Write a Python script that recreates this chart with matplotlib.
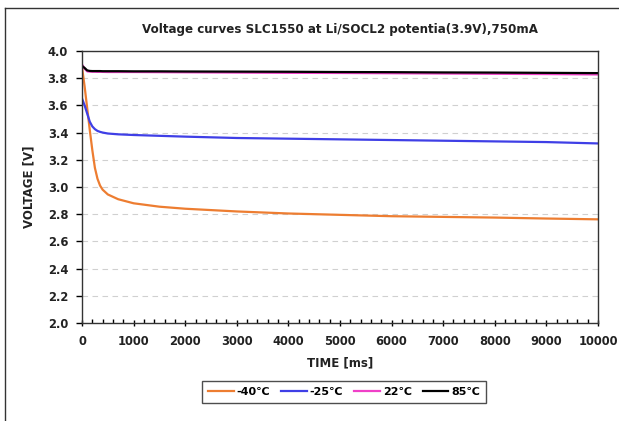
import matplotlib
matplotlib.use('Agg')
import matplotlib.pyplot as plt
from matplotlib.lines import Line2D
from matplotlib.ticker import MultipleLocator

# time points [ms]
t = [0, 50, 100, 150, 200, 250, 300, 350, 400, 500, 700, 1000, 1500, 2000, 3000,
     4000, 5000, 6000, 7000, 8000, 9000, 10000]

# voltage readings [V]
v_m40 = [3.88, 3.74, 3.58, 3.42, 3.27, 3.14, 3.06, 3.01, 2.98, 2.945, 2.91, 2.88,
         2.855, 2.84, 2.82, 2.805, 2.795, 2.785, 2.78, 2.775, 2.768, 2.762]
v_m25 = [3.65, 3.60, 3.54, 3.48, 3.445, 3.425, 3.412, 3.405, 3.40, 3.393, 3.387, 3.382,
         3.376, 3.37, 3.36, 3.355, 3.35, 3.345, 3.34, 3.335, 3.33, 3.32]
v_22 = [3.90, 3.87, 3.85, 3.848, 3.847, 3.847, 3.846, 3.846, 3.846, 3.845, 3.845, 3.845,
        3.844, 3.843, 3.841, 3.839, 3.838, 3.836, 3.834, 3.832, 3.83, 3.827]
v_85 = [3.89, 3.875, 3.857, 3.853, 3.852, 3.852, 3.852, 3.852, 3.851, 3.851, 3.851, 3.85,
        3.85, 3.849, 3.848, 3.847, 3.845, 3.844, 3.842, 3.841, 3.839, 3.837]

labels = ['-40℃', '-25℃', '22℃', '85℃']
colors = ['#ED7D31', '#3F3FE6', '#F040C8', '#000000']

fig = plt.figure(figsize=(6.19, 4.21), dpi=100, facecolor='white')
ax = fig.add_axes([0.1325, 0.2328, 0.8335, 0.6462])

for v, lab, c in zip([v_m40, v_m25, v_22, v_85], labels, colors):
    ax.plot(t, v, color=c, linewidth=1.6, label=lab)

ax.set_xlim(0, 10000)
ax.set_ylim(2.0, 4.0)
ax.xaxis.set_major_locator(MultipleLocator(1000))
ax.xaxis.set_minor_locator(MultipleLocator(200))
ax.yaxis.set_major_locator(MultipleLocator(0.2))
ax.yaxis.set_major_formatter(matplotlib.ticker.FormatStrFormatter('%.1f'))

ax.grid(axis='y', linestyle=(0, (5, 4)), color='#D0D0D0', linewidth=0.8)
ax.set_axisbelow(True)

ax.tick_params(axis='x', which='major', direction='inout', length=5, width=1, pad=6)
ax.tick_params(axis='x', which='minor', direction='in', length=3, width=1)
ax.tick_params(axis='y', which='major', direction='out', length=4, width=1, pad=6)
for lbl in ax.get_xticklabels() + ax.get_yticklabels():
    lbl.set_fontweight('bold')
    lbl.set_fontsize(8.3)
    lbl.set_color('#222222')

for sp in ax.spines.values():
    sp.set_color('#333333')
    sp.set_linewidth(1)

ax.set_xlabel('TIME [ms]', fontsize=8.5, fontweight='bold', color='#222222', labelpad=6)
ax.set_ylabel('VOLTAGE [V]', fontsize=8.5, fontweight='bold', color='#222222', labelpad=9)

fig.text(0.55, 0.929, 'Voltage curves SLC1550 at Li/SOCL2 potentia(3.9V),750mA',
         ha='center', va='center', fontsize=8.6, fontweight='bold', color='#222222')

leg = fig.legend(loc='center', bbox_to_anchor=(0.556, 0.069), ncol=4, fontsize=8,
                 frameon=True, fancybox=False, handlelength=2.3, handletextpad=0.25,
                 columnspacing=1.0, borderpad=0.55)
leg.get_frame().set_edgecolor('#222222')
leg.get_frame().set_linewidth(1)
for txt in leg.get_texts():
    txt.set_fontweight('bold')

# outer chart border (left and top edges visible)
fig.add_artist(Line2D([5 / 619, 5 / 619], [0, 1 - 8 / 421], color='#333333', linewidth=1))
fig.add_artist(Line2D([5 / 619, 1], [1 - 8 / 421, 1 - 8 / 421], color='#333333', linewidth=1))

fig.savefig('out.png', dpi=100)
